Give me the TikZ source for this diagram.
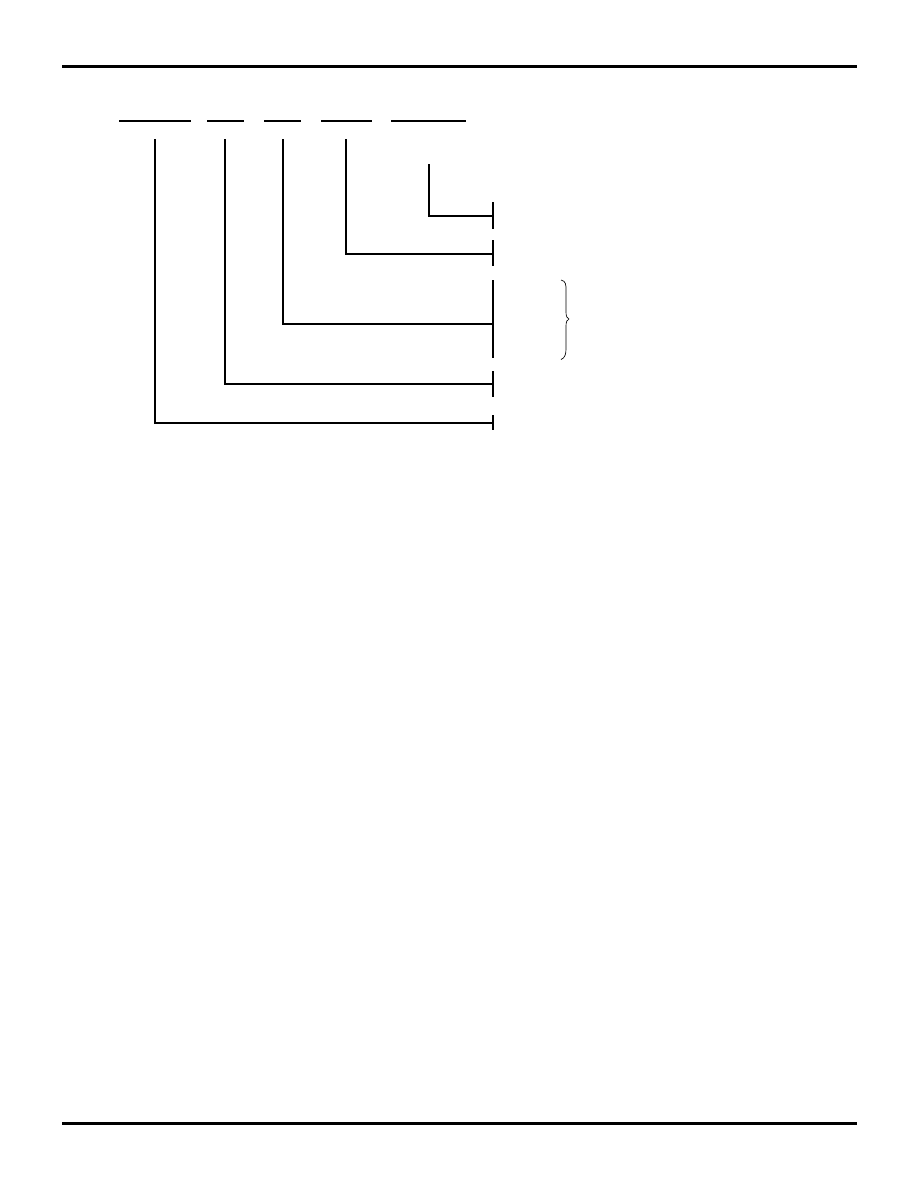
\documentclass[tikz,border=0pt]{standalone}
\begin{document}
\begin{tikzpicture}[x=0.6692pt,y=-0.6692pt,
  rulebar/.style={line width=1.8pt},
  treeline/.style={line width=1.1pt},
  bracestyle/.style={line width=0.45pt}]
\useasboundingbox[fill=white] (0,0) rectangle (918,1188);
% page rules
\coordinate (tl) at (62,66.2); \coordinate (tr) at (857,66.2);
\coordinate (bl) at (62,1123.5); \coordinate (br) at (857,1123.5);
\draw[rulebar] (tl) -- (tr);
\draw[rulebar] (bl) -- (br);
% blanks
\foreach \a/\b [count=\i] in {119/191,207/244,264/301,321/372,391/466}{
  \coordinate (s\i) at (\a,120.7); \coordinate (e\i) at (\b,120.7);
  \draw[treeline] (s\i) -- (e\i);
}
% tree lines
\coordinate (v1) at (155,139); \coordinate (h1) at (493,423);
\coordinate (v2) at (225,139); \coordinate (h2) at (493,384);
\coordinate (v3) at (283,139); \coordinate (h3) at (493,324);
\coordinate (v4) at (346,139); \coordinate (h4) at (493,254);
\coordinate (v5) at (429,164); \coordinate (h5) at (493,216);
\draw[treeline] (v1) |- (h1);
\draw[treeline] (v2) |- (h2);
\draw[treeline] (v3) |- (h3);
\draw[treeline] (v4) |- (h4);
\draw[treeline] (v5) |- (h5);
% bar segments
\foreach \a/\b [count=\i] in {202/229,240/266,280/358,371/397,415/429.5}{
  \coordinate (bt\i) at (493,\a); \coordinate (bb\i) at (493,\b);
  \draw[treeline] (bt\i) -- (bb\i);
}
% brace
\coordinate (brt) at (561,280); \coordinate (brm) at (569,319); \coordinate (brb) at (561,359.5);
\draw[bracestyle] (brt) .. controls (566,281) and (566,285) .. (566,290)
  -- (566,312) .. controls (566,316) and (567,318.5) .. (brm)
  .. controls (567,319.5) and (566,322) .. (566,326)
  -- (566,349) .. controls (566,354) and (565,358) .. (brb);
\end{tikzpicture}
\end{document}
